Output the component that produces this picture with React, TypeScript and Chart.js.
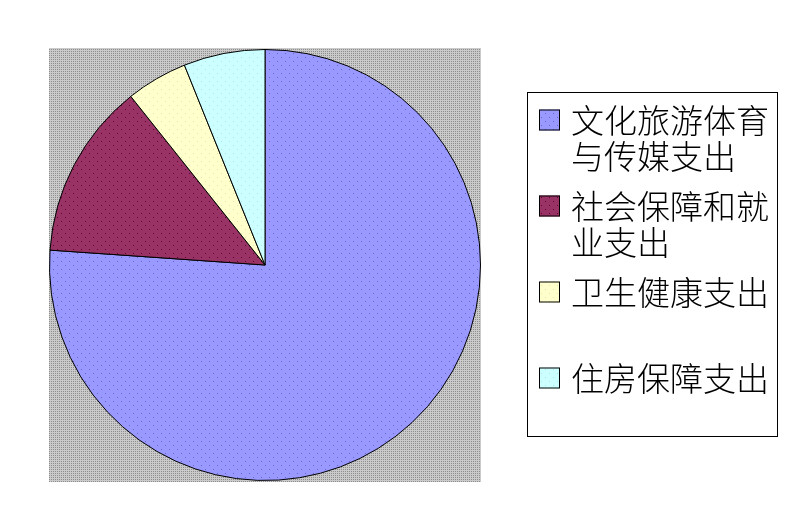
import React, { useEffect, useRef } from "react";
import { Chart, registerables } from "chart.js";

Chart.register(...registerables);

// Spending categories and their shares (percent)
const categories = ["文化旅游体育与传媒支出", "社会保障和就业支出", "卫生健康支出", "住房保障支出"];
const shares = [76.1, 13.2, 4.6, 6.1];
const baseColors = ["#9999FF", "#993366", "#FFFFCC", "#CCFFFF"];
const dotColors = ["#6666CC", "#660033", "#E6E6B0", "#B0E6E6"];

function dotPattern(base: string, dot: string): CanvasPattern | string {
  const c = document.createElement("canvas");
  c.width = 8;
  c.height = 8;
  const g = c.getContext("2d");
  if (!g) return base;
  g.fillStyle = base;
  g.fillRect(0, 0, 8, 8);
  g.fillStyle = dot;
  g.fillRect(1, 1, 1, 1);
  g.fillRect(5, 5, 1, 1);
  return g.createPattern(c, "repeat") || base;
}

function grayPattern(): CanvasPattern | string {
  const c = document.createElement("canvas");
  c.width = 2;
  c.height = 2;
  const g = c.getContext("2d");
  if (!g) return "#BEBEBE";
  g.fillStyle = "#CACACA";
  g.fillRect(0, 0, 2, 2);
  g.fillStyle = "#8E8E8E";
  g.fillRect(1, 1, 1, 1);
  return g.createPattern(c, "repeat") || "#BEBEBE";
}

const LEGEND_FONT = '300 33px "Noto Sans CJK SC", sans-serif';
const CHARS_PER_LINE = 6;

export default function App() {
  const ref = useRef<HTMLCanvasElement | null>(null);

  useEffect(() => {
    const canvas = ref.current;
    if (!canvas) return;
    const fills = baseColors.map((b, i) => dotPattern(b, dotColors[i]));
    const swatches = baseColors.map((b, i) => dotPattern(b, dotColors[i]));
    const plotFill = grayPattern();

    const plotBackground = {
      id: "plotBackground",
      beforeDatasetsDraw(chart: any) {
        const { ctx, chartArea } = chart;
        ctx.save();
        ctx.fillStyle = plotFill;
        ctx.fillRect(chartArea.left, chartArea.top, chartArea.right - chartArea.left, chartArea.bottom - chartArea.top);
        ctx.restore();
      },
    };

    const boxLegend = {
      id: "boxLegend",
      afterDraw(chart: any) {
        const { ctx } = chart;
        const left = 527.5, top = 92.5, right = 777.5, bottom = 436.5;
        ctx.save();
        ctx.fillStyle = "#FFFFFF";
        ctx.fillRect(left, top, right - left, bottom - top);
        ctx.strokeStyle = "#000000";
        ctx.lineWidth = 1;
        ctx.strokeRect(left, top, right - left, bottom - top);
        const slot = (bottom - top) / categories.length;
        ctx.font = LEGEND_FONT;
        ctx.textBaseline = "middle";
        ctx.textAlign = "left";
        categories.forEach((label, i) => {
          const y0 = top + i * slot + 28;
          ctx.fillStyle = swatches[i];
          ctx.fillRect(539, y0 - 11, 21, 21);
          ctx.strokeStyle = "#000000";
          ctx.strokeRect(539.5, y0 - 10.5, 20, 20);
          ctx.fillStyle = "#000000";
          for (let k = 0; k * CHARS_PER_LINE < label.length; k++) {
            const line = label.slice(k * CHARS_PER_LINE, (k + 1) * CHARS_PER_LINE);
            ctx.fillText(line, 571, y0 + k * 36);
          }
        });
        ctx.restore();
      },
    };

    const chart = new Chart(canvas, {
      type: "pie",
      data: {
        labels: categories,
        datasets: [
          {
            data: shares,
            backgroundColor: fills as any,
            borderColor: "#000000",
            borderWidth: 1,
          },
        ],
      },
      options: {
        responsive: false,
        animation: false,
        layout: { padding: { left: 49, top: 48, right: 310, bottom: 49 } },
        plugins: {
          legend: { display: false },
          tooltip: { enabled: false },
        },
      },
      plugins: [plotBackground, boxLegend],
    });
    return () => chart.destroy();
  }, []);

  return (
    <div style={{ position: "absolute", left: 0, top: 0, width: 791, height: 531, background: "#FFFFFF" }}>
      <canvas ref={ref} width={791} height={531} style={{ display: "block" }} />
    </div>
  );
}
